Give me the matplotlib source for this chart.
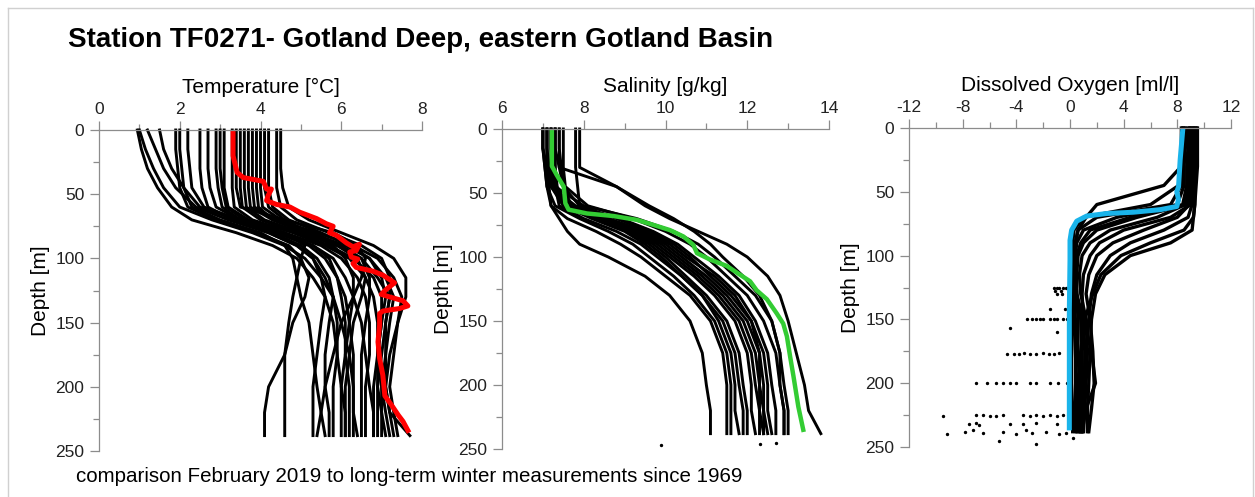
import numpy as np
import matplotlib
matplotlib.use("Agg")
import matplotlib.pyplot as plt
from matplotlib.lines import Line2D
from matplotlib.ticker import MultipleLocator

plt.rcParams['font.family'] = ['Liberation Sans', 'DejaVu Sans']
plt.rcParams['axes.unicode_minus'] = False

# ---------------- data ----------------
# common depth nodes of the historical winter profiles [m]
hist_depth = [0, 15, 30, 45, 60, 70, 80, 90, 100, 115, 130, 150, 175, 200, 220, 238]

# temperature [degC], historical winter profiles (black)
temp_hist = [
    [0.95, 1.05, 1.2, 1.45, 1.8, 2.3, 3.4, 4.3, 4.9, 5.3, 5.6, 5.8, 5.9, 6.0, 6.1, 6.1],
    [1.0, 1.15, 1.35, 1.6, 2.0, 2.8, 3.8, 4.6, 5.1, 5.5, 5.8, 6.0, 6.2, 6.3, 6.3, 6.4],
    [1.2, 1.4, 1.6, 1.9, 2.4, 3.2, 4.2, 4.9, 5.3, 5.5, 5.6, 5.5, 5.4, 5.3, 5.3, 5.3],
    [1.5, 1.6, 1.8, 2.1, 2.5, 3.4, 4.5, 5.3, 5.7, 5.9, 6.0, 6.1, 6.1, 6.2, 6.2, 6.2],
    [1.9, 1.9, 1.95, 2.0, 2.2, 2.9, 3.9, 4.7, 5.0, 5.2, 5.1, 4.8, 4.6, 4.2, 4.1, 4.1],
    [2.0, 2.0, 2.05, 2.1, 2.3, 3.0, 4.0, 4.6, 4.8, 4.9, 4.8, 4.7, 4.6, 4.6, 4.6, 4.6],
    [2.2, 2.2, 2.25, 2.3, 2.6, 3.5, 4.6, 5.1, 5.0, 4.9, 5.0, 5.2, 5.3, 5.4, 5.5, 5.6],
    [2.5, 2.5, 2.5, 2.55, 2.7, 3.3, 4.2, 4.9, 5.3, 5.6, 5.8, 5.9, 5.9, 5.8, 5.8, 5.8],
    [2.7, 2.7, 2.7, 2.75, 2.9, 3.5, 4.4, 5.2, 5.6, 5.9, 6.1, 6.2, 6.3, 6.3, 6.3, 6.3],
    [2.9, 2.9, 2.9, 2.95, 3.05, 3.5, 4.3, 5.0, 5.4, 5.7, 5.8, 5.7, 5.6, 5.6, 5.7, 5.7],
    [3.0, 3.0, 3.0, 3.05, 3.15, 3.6, 4.5, 5.3, 5.8, 6.1, 6.3, 6.5, 6.6, 6.7, 6.8, 6.8],
    [3.1, 3.1, 3.1, 3.1, 3.2, 3.7, 4.6, 5.5, 6.0, 6.4, 6.6, 6.7, 6.7, 6.6, 6.6, 6.6],
    [3.3, 3.3, 3.3, 3.3, 3.35, 3.8, 4.8, 5.6, 6.2, 6.6, 6.8, 6.9, 6.9, 7.0, 7.0, 7.0],
    [3.4, 3.4, 3.4, 3.4, 3.5, 4.6, 5.8, 6.4, 6.6, 6.5, 6.3, 6.0, 5.8, 5.6, 5.5, 5.4],
    [3.5, 3.5, 3.5, 3.5, 3.55, 4.0, 4.9, 5.7, 6.3, 6.8, 7.0, 7.0, 6.9, 6.9, 6.9, 6.9],
    [3.6, 3.6, 3.6, 3.6, 3.65, 4.1, 5.0, 5.9, 6.5, 6.9, 7.2, 7.1, 7.0, 6.9, 7.0, 7.1],
    [3.7, 3.7, 3.7, 3.7, 3.75, 4.3, 5.2, 6.1, 6.7, 7.1, 7.3, 7.2, 7.1, 7.0, 7.1, 7.2],
    [3.8, 3.8, 3.8, 3.8, 3.85, 4.4, 5.4, 6.3, 6.9, 7.3, 7.5, 7.4, 7.3, 7.2, 7.3, 7.4],
    [3.9, 3.9, 3.9, 3.9, 3.95, 4.3, 5.1, 5.9, 6.4, 6.6, 6.5, 6.3, 6.2, 6.1, 6.1, 6.1],
    [4.0, 4.0, 4.0, 4.0, 4.05, 4.5, 5.3, 6.0, 6.5, 6.7, 6.7, 6.6, 6.5, 6.5, 6.5, 6.5],
    [4.1, 4.1, 4.1, 4.1, 4.2, 4.6, 5.2, 5.8, 6.1, 6.3, 6.3, 6.2, 6.1, 6.0, 6.0, 6.0],
    [4.2, 4.2, 4.2, 4.2, 4.3, 4.7, 5.5, 6.2, 6.7, 7.0, 7.1, 7.0, 6.9, 6.8, 6.8, 6.8],
    [4.4, 4.4, 4.4, 4.4, 4.5, 4.9, 5.7, 6.5, 7.0, 7.2, 7.2, 7.1, 7.1, 7.1, 7.2, 7.7],
    [4.5, 4.5, 4.5, 4.55, 4.7, 5.2, 6.0, 6.8, 7.3, 7.6, 7.6, 7.4, 7.2, 7.1, 7.2, 7.3],
]

# temperature, February 2019 (red)
temp_2019_depth = [1, 20, 33, 37, 40, 46, 46, 51, 55, 58, 60, 64, 69, 73, 75, 80, 82, 88,
                   91, 89, 94, 95, 99, 100.5, 104, 107, 110, 113, 119, 124, 128, 130, 133,
                   137, 139, 141, 143, 152, 165, 178, 191, 207, 214, 222, 227, 234]
temp_2019 = [3.32, 3.32, 3.42, 3.57, 4.07, 4.15, 4.27, 4.19, 4.15, 4.40, 4.73, 4.97, 5.39,
             5.63, 5.80, 5.71, 5.88, 6.13, 6.29, 6.45, 6.37, 6.21, 6.25, 6.41, 6.29, 6.37,
             6.79, 7.03, 7.32, 7.12, 6.99, 7.20, 7.53, 7.65, 7.45, 7.03, 6.95, 6.95, 6.91,
             6.95, 7.03, 7.08, 7.24, 7.41, 7.53, 7.65]

# salinity [g/kg], historical winter profiles (black)
sal_hist = [
    [7.1, 7.1, 7.1, 7.15, 7.2, 7.4, 7.6, 7.9, 8.6, 9.5, 10.1, 10.6, 10.9, 11.0, 11.1, 11.1],
    [7.0, 7.0, 7.05, 7.1, 7.2, 7.6, 8.3, 8.9, 9.4, 10.0, 10.6, 11.1, 11.4, 11.5, 11.5, 11.5],
    [7.0, 7.0, 7.05, 7.1, 7.3, 7.9, 8.6, 9.2, 9.6, 10.2, 10.7, 11.2, 11.5, 11.6, 11.6, 11.6],
    [7.1, 7.1, 7.1, 7.2, 7.5, 8.2, 9.0, 9.5, 9.9, 10.4, 10.9, 11.3, 11.6, 11.7, 11.7, 11.8],
    [7.2, 7.2, 7.25, 7.3, 7.4, 8.0, 8.8, 9.4, 9.8, 10.4, 10.9, 11.4, 11.7, 11.8, 11.9, 11.9],
    [7.2, 7.2, 7.2, 7.25, 7.7, 8.4, 9.1, 9.6, 10.0, 10.5, 11.0, 11.5, 11.8, 11.9, 12.0, 12.0],
    [7.3, 7.3, 7.3, 7.3, 7.5, 8.3, 9.1, 9.7, 10.1, 10.7, 11.2, 11.7, 12.0, 12.1, 12.1, 12.2],
    [7.4, 7.4, 7.45, 7.5, 7.7, 8.4, 9.2, 9.8, 10.2, 10.8, 11.3, 11.8, 12.1, 12.2, 12.3, 12.3],
    [7.8, 7.8, 7.8, 7.85, 7.9, 8.5, 9.3, 9.9, 10.3, 10.9, 11.4, 11.9, 12.2, 12.3, 12.3, 12.4],
    [7.1, 7.1, 7.15, 7.2, 7.6, 8.6, 9.4, 10.0, 10.4, 11.0, 11.5, 12.0, 12.3, 12.4, 12.4, 12.5],
    [7.3, 7.3, 7.3, 7.35, 7.6, 8.6, 9.5, 10.1, 10.5, 11.2, 11.7, 12.1, 12.3, 12.3, 12.4, 12.4],
    [7.4, 7.4, 7.4, 7.5, 7.9, 8.8, 9.6, 10.2, 10.6, 11.1, 11.6, 12.1, 12.4, 12.5, 12.5, 12.6],
    [7.0, 7.0, 7.1, 7.2, 7.8, 8.9, 9.7, 10.3, 10.7, 11.3, 11.8, 12.2, 12.5, 12.6, 12.7, 12.7],
    [7.5, 7.5, 7.5, 7.55, 8.1, 9.2, 10.0, 10.6, 11.0, 11.5, 12.0, 12.4, 12.7, 12.8, 12.9, 12.9],
    [7.2, 7.2, 7.2, 7.3, 8.0, 9.3, 10.2, 10.8, 11.2, 11.7, 12.2, 12.6, 12.8, 12.8, 12.9, 12.9],
    [7.9, 7.9, 7.9, 8.8, 9.6, 10.2, 10.7, 11.1, 11.4, 11.9, 12.3, 12.6, 12.8, 12.9, 13.0, 13.0],
    [7.3, 7.3, 7.4, 8.8, 9.5, 10.1, 10.8, 11.5, 12.0, 12.5, 12.8, 13.0, 13.2, 13.4, 13.5, 13.8],
]

# salinity, February 2019 (green)
sal_2019_depth = [0, 29, 36, 45, 58, 63, 66, 68, 71, 75, 79, 84, 90.5, 97, 102, 107, 114,
                  119, 126, 133, 144, 152, 162, 178, 193, 217, 235]
sal_2019 = [7.22, 7.22, 7.34, 7.51, 7.55, 7.63, 8.08, 8.73, 9.30, 9.71, 10.11, 10.44, 10.68,
            10.77, 11.09, 11.50, 11.83, 12.07, 12.23, 12.48, 12.72, 12.88, 12.97, 13.05,
            13.13, 13.25, 13.37]

# dissolved oxygen [ml/l], historical winter profiles (black)
oxy_hist = [
    [8.3, 8.3, 8.2, 8.1, 6.0, 1.0, 0.3, 0.2, 0.2, 0.2, 0.3, 0.4, 0.4, 0.5, 0.5, 0.5],
    [8.4, 8.4, 8.3, 7.0, 2.0, 1.2, 0.6, 0.4, 0.3, 0.3, 0.3, 0.3, 0.4, 0.4, 0.4, 0.4],
    [8.5, 8.5, 8.4, 8.3, 7.5, 2.0, 0.6, 0.4, 0.3, 0.2, 0.1, 0.1, 0.1, 0.1, 0.2, 0.2],
    [8.6, 8.6, 8.5, 8.5, 8.0, 3.5, 1.0, 0.5, 0.4, 0.4, 0.5, 0.8, 0.9, 0.9, 0.8, 0.8],
    [8.8, 8.8, 8.7, 8.7, 8.4, 4.5, 1.5, 0.8, 0.5, 0.4, 0.5, 1.0, 1.6, 1.9, 1.2, 0.9],
    [8.9, 8.9, 8.8, 8.8, 8.6, 6.5, 3.0, 1.5, 0.9, 0.7, 0.8, 1.2, 1.3, 1.2, 1.1, 1.0],
    [9.0, 9.0, 8.9, 8.9, 8.7, 5.0, 2.0, 1.0, 0.6, 0.5, 0.5, 0.6, 0.6, 0.7, 0.7, 0.7],
    [9.1, 9.1, 9.0, 9.0, 8.9, 8.0, 5.5, 3.2, 2.0, 1.4, 1.2, 1.5, 1.7, 1.8, 1.6, 1.4],
    [9.2, 9.2, 9.1, 9.1, 9.0, 7.5, 4.0, 2.2, 1.5, 1.0, 0.9, 1.0, 1.1, 1.1, 1.0, 0.9],
    [9.3, 9.3, 9.2, 9.2, 9.1, 8.8, 7.0, 4.5, 3.0, 2.0, 1.6, 1.4, 1.2, 1.0, 0.9, 0.8],
    [9.4, 9.4, 9.4, 9.3, 9.3, 9.2, 9.1, 7.5, 4.5, 2.6, 1.9, 1.6, 1.5, 1.4, 1.3, 1.3],
    [9.5, 9.5, 9.5, 9.4, 9.3, 9.2, 8.5, 6.0, 3.8, 2.3, 1.7, 1.1, 0.8, 0.7, 0.6, 0.6],
]

# dissolved oxygen, February 2019 (blue)
oxy_2019_depth = [0.5, 25, 46, 50, 56, 61.5, 64, 66, 67, 69, 73, 80, 88, 103, 143, 182, 235]
oxy_2019 = [8.41, 8.21, 8.09, 7.96, 8.09, 7.96, 6.72, 4.73, 2.74, 1.24, 0.50, 0.12, 0.0,
            0.0, -0.05, -0.05, -0.05]

# scattered single oxygen readings (negative = hydrogen sulphide equivalents)
oxy_dots = [-1.2, -1.0, -0.8, -0.5, -0.3, -1.1, -0.7, -1.0, -0.6, -1.5, -0.4,
            -3.2, -2.8, -2.5, -2.2, -2.0, -1.5, -1.2, -1.0, -0.5, -0.2, -4.5, -1.0,
            -4.7, -4.2, -3.8, -3.4, -3.0, -2.5, -2.0, -1.6, -1.2, -0.8,
            -7.0, -6.2, -5.5, -5.0, -4.5, -4.0, -3.0, -2.5, -1.5, -0.9, -0.2,
            -9.5, -7.0, -6.5, -6.0, -5.5, -5.0, -3.5, -3.0, -2.5, -2.0, -1.5, -1.0, -0.5,
            -7.5, -7.0, -6.8, -4.5, -3.5, -2.5, -1.0,
            -9.2, -7.8, -7.2, -6.5, -5.0, -4.0, -3.3, -2.8, -1.8, -0.8, -0.3,
            -5.3, -2.5, 0.2]
oxy_dots_depth = [125, 125, 125, 125, 125, 128, 128, 130, 130, 142, 142,
                  150, 150, 150, 150, 150, 150, 150, 150, 150, 150, 157, 160,
                  177, 177, 177, 176, 177, 177, 176, 177, 177, 176,
                  200, 200, 200, 200, 200, 200, 200, 200, 200, 200, 200,
                  226, 225, 225, 226, 226, 225, 225, 226, 225, 226, 225, 226, 225,
                  232, 231, 233, 232, 232, 231, 232,
                  240, 238, 237, 239, 238, 240, 237, 239, 238, 240, 239,
                  245, 248, 243]

sal_dots = [9.9, 12.3, 12.7]
sal_dots_depth = [247, 246, 245]

# ---------------- figure ----------------
W, H = 1255, 497
fig = plt.figure(figsize=(W / 100, H / 100), dpi=100)

grey = '#8c8c8c'

# thin frame round the whole picture
for xs, ys in [([8, 8], [8, H]), ([8, 1253], [8, 8]), ([1253, 1253], [8, H])]:
    fig.add_artist(Line2D([x / W for x in xs], [1 - y / H for y in ys],
                          color='#d0d0d0', lw=1.0, transform=fig.transFigure))


def make_ax(left, right, top, bottom, xlim, xmajor, xminor, xlabel):
    ax = fig.add_axes([left / W, 1 - bottom / H, (right - left) / W, (bottom - top) / H])
    ax.set_xlim(*xlim)
    ax.set_ylim(250, 0)
    ax.xaxis.set_major_locator(MultipleLocator(xmajor))
    ax.xaxis.set_minor_locator(MultipleLocator(xminor))
    ax.yaxis.set_major_locator(MultipleLocator(50))
    ax.yaxis.set_minor_locator(MultipleLocator(25))
    ax.xaxis.tick_top()
    ax.xaxis.set_label_position('top')
    for s in ['right', 'bottom']:
        ax.spines[s].set_visible(False)
    for s in ['left', 'top']:
        ax.spines[s].set_color(grey)
        ax.spines[s].set_linewidth(0.9)
    ax.tick_params(which='major', length=6.5, width=0.9, color=grey,
                   labelsize=12.5, labelcolor='#222222')
    ax.tick_params(axis='x', which='major', pad=3)
    ax.tick_params(axis='y', which='major', pad=4)
    ax.tick_params(which='minor', length=4, width=0.9, color=grey)
    ax.set_xlabel(xlabel, fontsize=15, labelpad=6)
    ax.set_ylabel('Depth [m]', fontsize=15, labelpad=4)
    ax.set_facecolor('none')
    return ax


ax1 = make_ax(99, 422, 130, 451, (0, 8), 2, 1, 'Temperature [°C]')
ax2 = make_ax(502, 829, 129, 449, (6, 14), 2, 1, 'Salinity [g/kg]')
ax3 = make_ax(909, 1231, 128, 447, (-12, 12), 4, 2, 'Dissolved Oxygen [ml/l]')

for prof in temp_hist:
    ax1.plot(prof, hist_depth, color='black', lw=2.1, clip_on=False)
ax1.plot(temp_2019, temp_2019_depth, color='#ff0000', lw=3.6, solid_joinstyle='round')

for prof in sal_hist:
    ax2.plot(prof, hist_depth, color='black', lw=2.1, clip_on=False)
ax2.scatter(sal_dots, sal_dots_depth, s=2, color='black', clip_on=False)
ax2.plot(sal_2019, sal_2019_depth, color='#33cc33', lw=3.2, solid_joinstyle='round')

for prof in oxy_hist:
    ax3.plot(prof, hist_depth, color='black', lw=2.4, clip_on=False)
ax3.scatter(oxy_dots, oxy_dots_depth, s=2, color='black', clip_on=False)
ax3.plot(oxy_2019, oxy_2019_depth, color='#1ab4ea', lw=3.6, solid_joinstyle='round')

fig.text(68 / W, 1 - 40 / H, 'Station TF0271- Gotland Deep, eastern Gotland Basin',
         fontsize=20, fontweight='bold', va='center', ha='left')
fig.text(76 / W, 1 - 477 / H,
         'comparison February 2019 to long-term winter measurements since 1969',
         fontsize=14.8, va='center', ha='left')

fig.savefig('out.png', dpi=100, facecolor='white')
